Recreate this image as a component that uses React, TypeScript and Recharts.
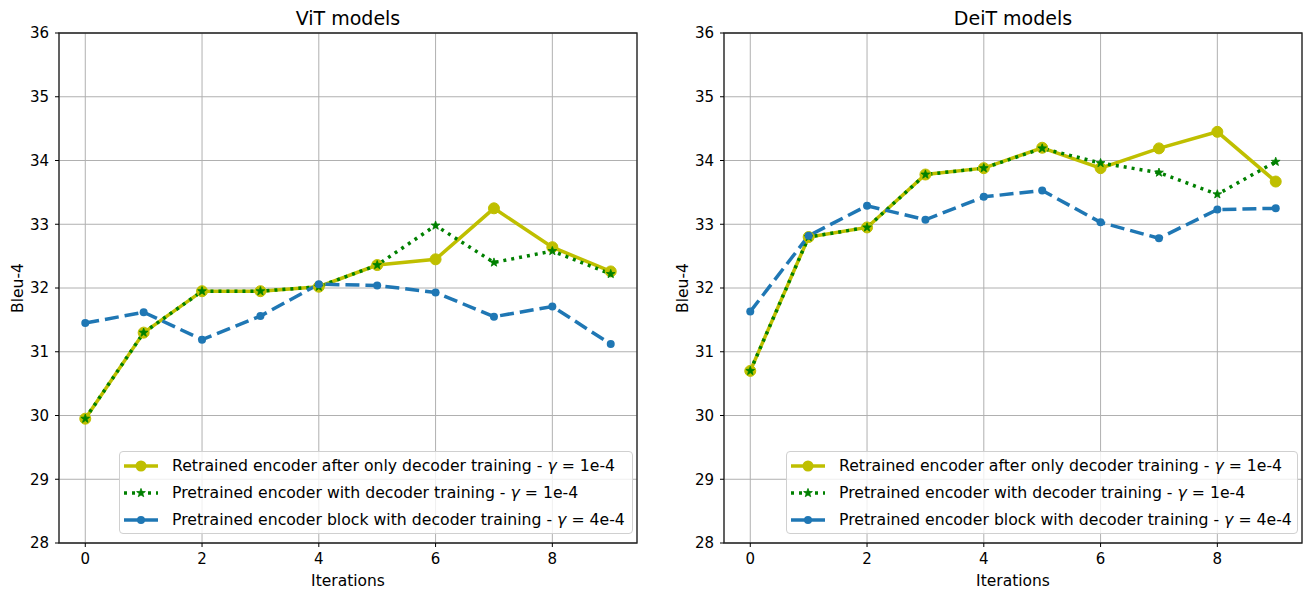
import React from 'react';
import {
  LineChart,
  Line,
  XAxis,
  YAxis,
  CartesianGrid,
  ReferenceArea,
} from 'recharts';

const FONT = '"DejaVu Sans", "Liberation Sans", sans-serif';

// shared axes
const iterations = [0, 1, 2, 3, 4, 5, 6, 7, 8, 9];
const xTicks = [0, 2, 4, 6, 8];
const yTicks = [28, 29, 30, 31, 32, 33, 34, 35, 36];

// ViT models
const vitRetrained = [29.95, 31.3, 31.95, 31.95, 32.02, 32.36, 32.45, 33.25, 32.64, 32.26];
const vitPretrained = [29.95, 31.3, 31.95, 31.95, 32.02, 32.36, 32.98, 32.4, 32.58, 32.22];
const vitBlock = [31.45, 31.62, 31.19, 31.56, 32.06, 32.04, 31.93, 31.55, 31.71, 31.12];

// DeiT models
const deitRetrained = [30.7, 32.8, 32.95, 33.78, 33.88, 34.2, 33.88, 34.19, 34.45, 33.67];
const deitPretrained = [30.7, 32.8, 32.95, 33.78, 33.88, 34.19, 33.96, 33.81, 33.47, 33.98];
const deitBlock = [31.63, 32.82, 33.29, 33.07, 33.43, 33.53, 33.03, 32.78, 33.23, 33.25];

const seriesNames = [
  'Retrained encoder after only decoder training',
  'Pretrained encoder with decoder training',
  'Pretrained encoder block with decoder training',
];
const gammas = ['1e-4', '1e-4', '4e-4'];

const YELLOW = '#bfbf00';
const GREEN = '#008000';
const BLUE = '#1f77b4';

function StarDot(props: any) {
  const { cx, cy } = props;
  if (cx == null || cy == null) return null;
  const outer = 4.6;
  const inner = 1.9;
  const pts: string[] = [];
  for (let i = 0; i < 10; i++) {
    const a = -Math.PI / 2 + (i * Math.PI) / 5;
    const rad = i % 2 === 0 ? outer : inner;
    pts.push(`${cx + rad * Math.cos(a)},${cy + rad * Math.sin(a)}`);
  }
  return <polygon points={pts.join(' ')} fill={GREEN} stroke={GREEN} strokeWidth={0.8} />;
}

/**
 * Legend box drawn as html over the plot.
 */
function LegendBox({ left, width }: { left: number; width: number }) {
  const samples = [
    { color: YELLOW, dash: undefined, width: 3.5, marker: 'circle', r: 5.5 },
    { color: GREEN, dash: '3 5', width: 3.5, marker: 'star', r: 4 },
    { color: BLUE, dash: undefined, width: 3.5, marker: 'circle', r: 4 },
  ];
  return (
    <div
      style={{
        position: 'absolute',
        left,
        top: 451,
        width,
        height: 83,
        boxSizing: 'border-box',
        border: '1px solid #d0d0d0',
        borderRadius: 4,
        background: 'rgba(255,255,255,0.8)',
        fontFamily: FONT,
        fontSize: 15.7,
        color: '#000',
        padding: '0 0 0 4px',
      }}
    >
      {samples.map((s, i) => (
        <div key={i} style={{ display: 'flex', alignItems: 'center', height: 27 }}>
          <svg width={34} height={14} style={{ marginRight: 14 }}>
            <line x1={0} y1={7} x2={34} y2={7} stroke={s.color} strokeWidth={s.width} strokeDasharray={s.dash} />
            {s.marker === 'circle' ? (
              <circle cx={17} cy={7} r={s.r} fill={s.color} />
            ) : (
              <StarDot cx={17} cy={7} />
            )}
          </svg>
          <span style={{ whiteSpace: 'nowrap' }}>
            {seriesNames[i]} - <i>γ</i> = {gammas[i]}
          </span>
        </div>
      ))}
    </div>
  );
}

interface PanelProps {
  title: string;
  left: number;
  marginLeft: number;
  marginRight: number;
  retrained: number[];
  pretrained: number[];
  block: number[];
  legendLeft: number;
  legendWidth: number;
}

function Panel(props: PanelProps) {
  const { title, left, marginLeft, marginRight, retrained, pretrained, block } = props;
  const chartWidth = 660;
  const data = iterations.map((it, i) => ({
    iter: it,
    retrained: retrained[i],
    pretrained: pretrained[i],
    block: block[i],
  }));
  const plotLeft = marginLeft + 50;
  const plotRight = chartWidth - marginRight;

  return (
    <div style={{ position: 'absolute', left, top: 0, width: chartWidth, height: 591 }}>
      <div
        style={{
          position: 'absolute',
          left: plotLeft,
          width: plotRight - plotLeft,
          top: 7,
          textAlign: 'center',
          fontFamily: FONT,
          fontSize: 19,
          color: '#000',
        }}
      >
        {title}
      </div>
      <LineChart
        width={chartWidth}
        height={591}
        data={data}
        margin={{ top: 33, right: marginRight, bottom: 0, left: marginLeft }}
        style={{ fontFamily: FONT }}
      >
        <CartesianGrid stroke="#b0b0b0" strokeWidth={1} />
        <XAxis
          dataKey="iter"
          type="number"
          domain={[-0.45, 9.45]}
          ticks={xTicks}
          allowDataOverflow
          height={48}
          axisLine={false}
          tickSize={4}
          tickMargin={6}
          tickLine={{ stroke: '#000' }}
          tick={{ fill: '#000', fontSize: 15 }}
          label={{ value: 'Iterations', position: 'insideBottom', offset: 5, fill: '#000', fontSize: 15.5 }}
        />
        <YAxis
          type="number"
          domain={[28, 36]}
          ticks={yTicks}
          allowDataOverflow
          width={50}
          axisLine={false}
          tickSize={4}
          tickMargin={6}
          tickLine={{ stroke: '#000' }}
          tick={{ fill: '#000', fontSize: 15 }}
          label={{
            value: 'Bleu-4',
            angle: -90,
            position: 'insideLeft',
            offset: 8,
            fill: '#000',
            fontSize: 15.5,
            textAnchor: 'middle',
          }}
        />
        <ReferenceArea x1={-0.45} x2={9.45} y1={28} y2={36} fill="none" stroke="#222" strokeWidth={1.3} ifOverflow="visible" />
        <Line
          dataKey="retrained"
          stroke={YELLOW}
          strokeWidth={3.5}
          dot={{ r: 5.5, fill: YELLOW, stroke: YELLOW, strokeWidth: 1 }}
          activeDot={false}
          isAnimationActive={false}
        />
        <Line
          dataKey="pretrained"
          stroke={GREEN}
          strokeWidth={3.5}
          strokeDasharray="3 5"
          dot={(p: any) => <StarDot key={p.index} cx={p.cx} cy={p.cy} />}
          activeDot={false}
          isAnimationActive={false}
        />
        <Line
          dataKey="block"
          stroke={BLUE}
          strokeWidth={3.5}
          strokeDasharray="14 6"
          dot={{ r: 4, fill: BLUE, stroke: BLUE, strokeWidth: 0 }}
          activeDot={false}
          isAnimationActive={false}
        />
      </LineChart>
      <LegendBox left={props.legendLeft} width={props.legendWidth} />
    </div>
  );
}

export default function App() {
  return (
    <div style={{ position: 'absolute', left: 0, top: 0, width: 1307, height: 591, background: '#fff' }}>
      <Panel
        title="ViT models"
        left={0}
        marginLeft={9}
        marginRight={23}
        retrained={vitRetrained}
        pretrained={vitPretrained}
        block={vitBlock}
        legendLeft={119}
        legendWidth={514}
      />
      <Panel
        title="DeiT models"
        left={660}
        marginLeft={14}
        marginRight={18}
        retrained={deitRetrained}
        pretrained={deitPretrained}
        block={deitBlock}
        legendLeft={126}
        legendWidth={512}
      />
    </div>
  );
}
